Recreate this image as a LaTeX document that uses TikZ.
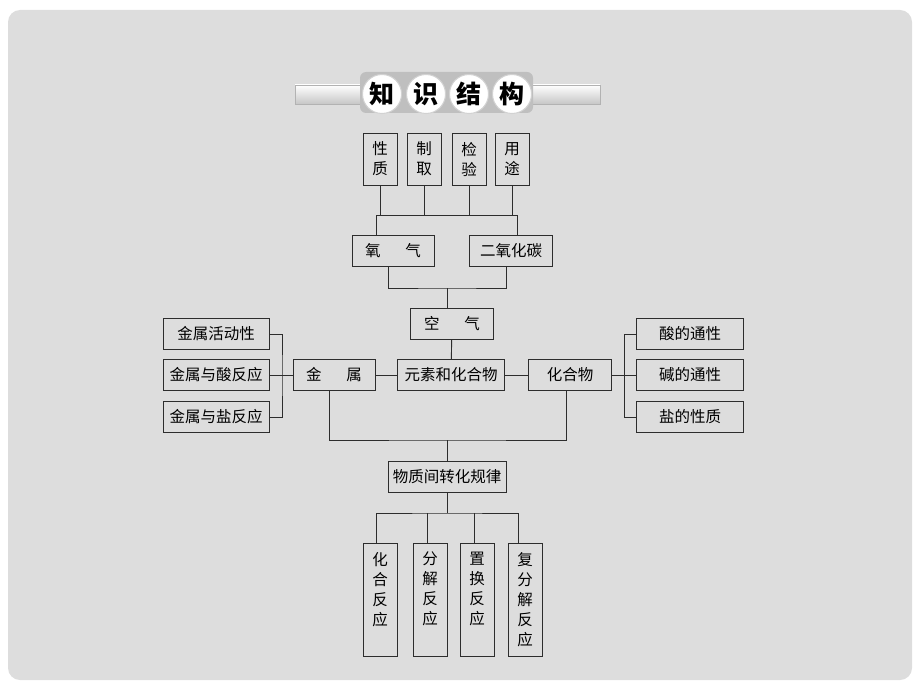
\documentclass[tikz,border=0pt]{standalone}
\usepackage{fontspec}
\setmainfont{Noto Sans CJK SC}
\usetikzlibrary{positioning}
\definecolor{hintergrund}{RGB}{221,221,221}
\definecolor{linie}{RGB}{45,45,45}
\tikzset{
  kasten/.style={draw=linie,line width=0.9pt,inner sep=0pt,font=\fontsize{15.5}{20}\selectfont},
  hkasten/.style={kasten,minimum height=31pt},
  vkasten/.style={kasten,minimum width=34pt,align=center},
  verb/.style={draw=linie,line width=0.9pt},
  kreis/.style={circle,minimum size=39pt,inner sep=0pt,fill=white,draw=gray!35,line width=1pt,font=\fontsize{25}{25}\selectfont\bfseries}
}
\begin{document}
\begin{tikzpicture}[x=1pt,y=-1pt]
  \useasboundingbox (0,0) rectangle (920,690);
  % hintergrund
  \fill[hintergrund,rounded corners=12pt] (8,10) rectangle (912,680);

  % titel
  \draw[gray!60,top color=white,bottom color=gray!45] (295,85) rectangle (600,104);
  \fill[gray!50,rounded corners=6pt] (360,72) rectangle (533,113);
  \node[kreis] (zhi) at (382,94) {知};
  \node[kreis] (shi) at (426,94) {识};
  \node[kreis] (jie) at (469,94) {结};
  \node[kreis] (gou) at (512,94) {构};

  % obere reihe
  \node[vkasten,minimum height=52pt] (xingzhi) at (380,159) {性\\质};
  \node[vkasten,minimum height=52pt] (zhiqu) at (424,159) {制\\取};
  \node[vkasten,minimum height=52pt] (jianyan) at (469,159) {检\\验};
  \node[vkasten,minimum height=52pt] (yongtu) at (512,159) {用\\途};

  \node[hkasten,minimum width=82pt] (yangqi) at (393,251) {氧\hspace{1.6em}气};
  \node[hkasten,minimum width=83pt] (eryang) at (511,251) {二氧化碳};
  \node[hkasten,minimum width=83pt] (kongqi) at (452,324) {空\hspace{1.6em}气};

  % mitte
  \node[hkasten,minimum width=107pt] (yuansu) at (451,375) {元素和化合物};
  \node[hkasten,minimum width=82pt] (jinshu) at (334,375) {金\hspace{1.6em}属};
  \node[hkasten,minimum width=83pt] (huahewu) at (570,375) {化合物};

  \node[hkasten,minimum width=106pt] (huodong) at (216,334) {金属活动性};
  \node[hkasten,minimum width=106pt] (suanfy) at (216,375) {金属与酸反应};
  \node[hkasten,minimum width=106pt] (yanfy) at (216,417) {金属与盐反应};

  \node[hkasten,minimum width=107pt] (suande) at (690,334) {酸的通性};
  \node[hkasten,minimum width=107pt] (jiande) at (690,375) {碱的通性};
  \node[hkasten,minimum width=107pt] (yande) at (690,417) {盐的性质};

  \node[hkasten,minimum width=118pt] (guilv) at (447,477) {物质间转化规律};

  % untere reihe
  \node[vkasten,minimum height=113pt] (huahe) at (380,600) {\parbox[t][96pt][t]{1.2em}{\centering 化\\合\\反\\应}};
  \node[vkasten,minimum height=113pt] (fenjie) at (430,600) {\parbox[t][96pt][t]{1.2em}{\centering 分\\解\\反\\应}};
  \node[vkasten,minimum height=113pt] (zhihuan) at (477,600) {\parbox[t][96pt][t]{1.2em}{\centering 置\\换\\反\\应}};
  \node[vkasten,minimum height=113pt] (fufenjie) at (525,600) {\parbox[t][96pt][t]{1.2em}{\centering 复\\分\\解\\反\\应}};

  % verbindungen oben
  \coordinate (o1) at (376,215);
  \coordinate (o2) at (517,215);
  \draw[verb] (yangqi.north -| o1) |- (o2) -- (eryang.north -| o2);
  \foreach \k in {xingzhi,zhiqu,jianyan,yongtu}
    \draw[verb] (\k.south) -- (\k.south |- o1);
  \coordinate (o3) at (447,288);
  \draw[verb] (yangqi.south -| 388,0) |- (o3) -| (eryang.south -| 506,0);
  \draw[verb] (o3) -- (kongqi.north -| o3);
  \draw[verb] (kongqi) -- (yuansu);
  \draw[verb] (jinshu) -- (yuansu) -- (huahewu);

  % klammern links und rechts
  \coordinate (kl) at (282,375);
  \draw[verb] (huodong.east) -| (kl) |- (yanfy.east);
  \draw[verb] (suanfy) -- (jinshu);
  \coordinate (kr) at (624,375);
  \draw[verb] (suande.west) -| (kr) |- (yande.west);
  \draw[verb] (huahewu) -- (jiande);

  % verbindungen unten
  \coordinate (u1) at (447,440);
  \draw[verb] (jinshu.south -| 329,0) |- (u1) -| (huahewu.south -| 566,0);
  \draw[verb] (u1) -- (guilv);
  \coordinate (u2) at (447,513);
  \draw[verb] (guilv) -- (u2);
  \draw[verb] (huahe.north -| 376,0) |- (u2) -| (fufenjie.north -| 518,0);
  \draw[verb] (fenjie.north -| 427,0) -- (427,513);
  \draw[verb] (zhihuan.north -| 474,0) -- (474,513);
\end{tikzpicture}
\end{document}
